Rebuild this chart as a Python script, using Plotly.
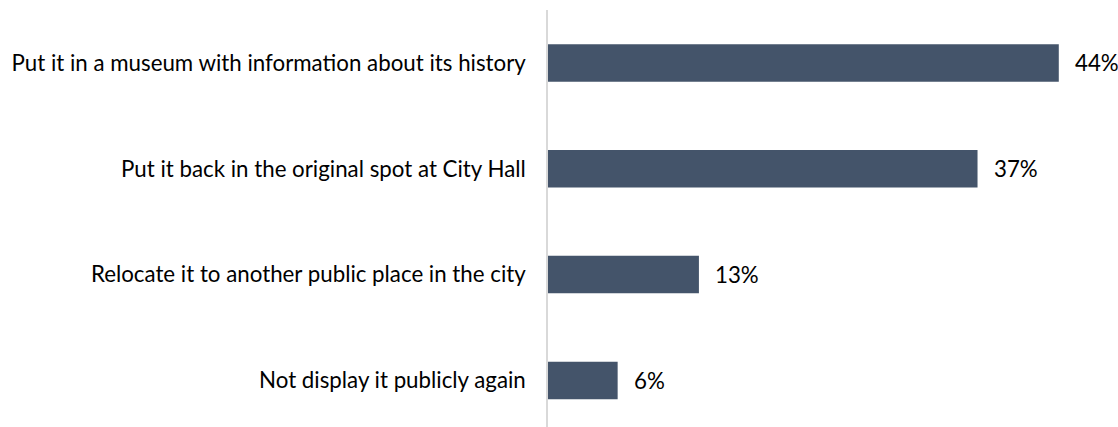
import plotly.graph_objects as go

categories = [
    "Put it in a museum with information about its history",
    "Put it back in the original spot at City Hall",
    "Relocate it to another public place in the city",
    "Not display it publicly again",
]
values = [44, 37, 13, 6]
value_labels = ["44%", "37%", "13%", "6%"]

FONT = "Lato"
FS = 22.3
fig = go.Figure(
    go.Bar(
        x=values,
        y=categories,
        orientation="h",
        marker=dict(color="#44546A", line=dict(width=0)),
        width=0.354,
        hoverinfo="skip",
    )
)
for c, v, t in zip(categories, values, value_labels):
    fig.add_annotation(
        x=v, y=c, text=t, showarrow=False, xanchor="left", xshift=14,
        font=dict(family=FONT, size=FS, color="#000000"),
    )

fig.update_layout(
    width=1118, height=427,
    margin=dict(l=548, r=0, t=10, b=0),
    plot_bgcolor="white", paper_bgcolor="white",
    showlegend=False,
    xaxis=dict(range=[0, 49.1], visible=False, fixedrange=True),
    yaxis=dict(
        categoryorder="array", categoryarray=categories,
        range=[3.44, -0.5], fixedrange=True,
        showline=True, linecolor="#D9D9D9", linewidth=1.5,
        ticks="", showgrid=False, zeroline=False,
        tickfont=dict(family=FONT, size=FS, color="#000000"),
        ticklabelstandoff=16,
    ),
)
fig.write_html(
    "out.html",
    config={"displayModeBar": False},
    post_script="document.body.style.margin='0';",
)
